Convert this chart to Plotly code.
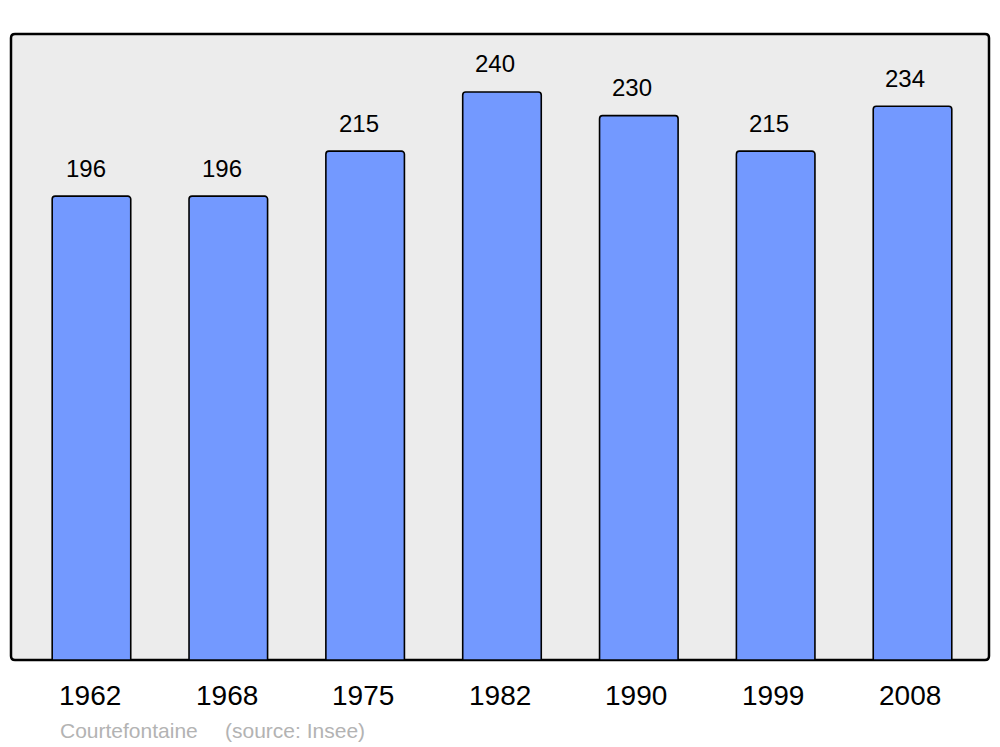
import plotly.graph_objects as go

years = ["1962", "1968", "1975", "1982", "1990", "1999", "2008"]
population = [196, 196, 215, 240, 230, 215, 234]
commune = "Courtefontaine"
source = "(source: Insee)"

x_idx = list(range(len(years)))

W, H = 1000, 747
L, R, T, B = 11, 11, 34, 87
PW = W - L - R
PH = H - T - B

fig = go.Figure()
fig.add_trace(go.Bar(
    x=x_idx, y=population, width=0.574,
    marker=dict(color="#7399ff", line=dict(color="black", width=1.6), cornerradius=3),
    hoverinfo="skip",
))

font = "Liberation Sans, Arial, sans-serif"
annotations = []
for i, (yr, v) in enumerate(zip(years, population)):
    annotations.append(dict(x=i, y=v, xref="x", yref="y", text=str(v), showarrow=False,
                            xshift=-5.5 - 0.33 * i, yshift=28, yanchor="middle",
                            font=dict(family=font, size=24, color="black")))
    annotations.append(dict(x=i, y=0, xref="x", yref="y", text=yr, showarrow=False,
                            xshift=-1.5 - 0.25 * i, yshift=-35, yanchor="middle",
                            font=dict(family=font, size=28, color="black")))

annotations.append(dict(x=(58 - L) / PW, y=0, xref="paper", yref="paper", text=commune,
                        showarrow=False, xanchor="left", yanchor="middle", yshift=-70,
                        font=dict(family=font, size=21, color="#b3b3b3")))
annotations.append(dict(x=(223 - L) / PW, y=0, xref="paper", yref="paper", text=source,
                        showarrow=False, xanchor="left", yanchor="middle", yshift=-70,
                        font=dict(family=font, size=21, color="#b3b3b3")))

rx, ry = 4 / PW, 4 / PH
frame = (f"M {rx},0 L {1-rx},0 Q 1,0 1,{ry} L 1,{1-ry} Q 1,1 {1-rx},1 "
         f"L {rx},1 Q 0,1 0,{1-ry} L 0,{ry} Q 0,0 {rx},0 Z")

fig.update_layout(
    width=W, height=H,
    margin=dict(l=L, r=R, t=T, b=B, pad=0),
    paper_bgcolor="white",
    plot_bgcolor="rgba(0,0,0,0)",
    showlegend=False,
    annotations=annotations,
    shapes=[dict(type="path", xref="paper", yref="paper", path=frame,
                 fillcolor="#ececec", line=dict(color="black", width=2.5), layer="below")],
    xaxis=dict(range=[-0.588, 6.559], showticklabels=False, showgrid=False, zeroline=False,
               ticks="", fixedrange=True),
    yaxis=dict(range=[0, 264.5], showticklabels=False, showgrid=False, zeroline=False,
               ticks="", fixedrange=True),
)

fig.write_html("out.html", config={"displayModeBar": False},
               post_script="document.body.style.margin='0';document.body.style.overflow='hidden';")
